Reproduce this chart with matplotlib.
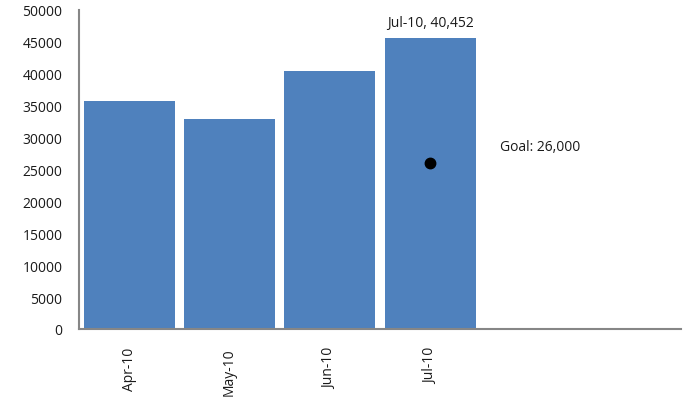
import matplotlib
matplotlib.use("Agg")
import matplotlib.pyplot as plt

# Monthly totals
months = ["Apr-10", "May-10", "Jun-10", "Jul-10"]
totals = [35700, 32950, 40452, 45600]

# Goal marker and callout text
goal_month = "Jul-10"
goal_value = 26000
callout_month = "Jul-10"
callout_value = 40452

n_slots = 6  # axis leaves room for two more months
yticks = list(range(0, 50001, 5000))

plt.rcParams["font.family"] = ["Open Sans", "DejaVu Sans"]

fig = plt.figure(figsize=(6.84, 4.06), dpi=100)
ax = fig.add_axes([79 / 684, 76 / 406, 602 / 684, 319 / 406])

x = list(range(len(months)))
ax.bar(x, totals, width=0.91, color="#4F81BD", zorder=2)

gi = months.index(goal_month)
ax.plot([gi], [goal_value], "o", color="black", markersize=7.5, zorder=3)
ax.annotate(f"Goal: {goal_value:,}", xy=(gi, goal_value), xytext=(50, 12),
            textcoords="offset points", fontsize=10, ha="left", va="center",
            color="#1a1a1a")

ci = months.index(callout_month)
ax.annotate(f"{callout_month}, {callout_value:,}", xy=(ci, totals[ci]),
            xytext=(0, 6), textcoords="offset points", fontsize=10,
            ha="center", va="bottom", color="#1a1a1a")

ax.set_xlim(-0.5, n_slots - 0.5)
ax.set_ylim(0, 50000)
ax.set_yticks(yticks)
ax.set_yticklabels([str(v) for v in yticks], fontsize=10, color="#1a1a1a")
ax.set_xticks(x)
ax.set_xticklabels(months, rotation=90, fontsize=10, color="#1a1a1a",
                   va="top", ha="center")
ax.tick_params(axis="y", length=0, pad=12)
ax.tick_params(axis="x", length=0, pad=13)

for side in ("top", "right"):
    ax.spines[side].set_visible(False)
for side in ("left", "bottom"):
    ax.spines[side].set_color("#868686")
    ax.spines[side].set_linewidth(1.5)

fig.savefig("out.png", dpi=100)
